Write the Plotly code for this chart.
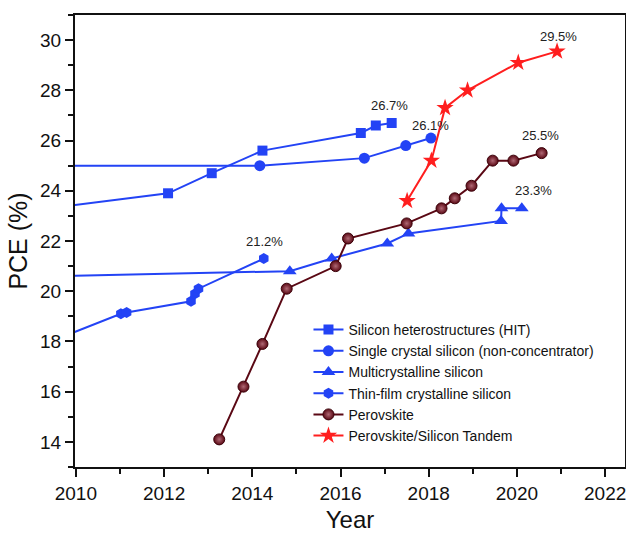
import plotly.graph_objects as go

# ---- data ----
hit_year = [2008.0, 2012.09, 2013.08, 2014.23, 2016.46, 2016.80, 2017.16]
hit_pce = [23.0, 23.9, 24.7, 25.6, 26.3, 26.6, 26.7]

sc_year = [1999.0, 2014.17, 2016.54, 2017.48, 2018.05]
sc_pce = [25.0, 25.0, 25.3, 25.8, 26.1]

mc_year = [2004.0, 2014.85, 2015.80, 2017.06, 2017.54, 2019.64, 2019.65, 2020.11]
mc_pce = [20.4, 20.8, 21.3, 21.9, 22.3, 22.8, 23.3, 23.3]

tf_year = [2009.0, 2011.02, 2011.15, 2012.61, 2012.70, 2012.78, 2014.26]
tf_pce = [17.7, 19.1, 19.15, 19.6, 19.9, 20.1, 21.3]

pk_year = [2013.25, 2013.80, 2014.23, 2014.78, 2015.89, 2016.17, 2017.50,
           2018.29, 2018.59, 2018.97, 2019.45, 2019.92, 2020.56]
pk_pce = [14.1, 16.2, 17.9, 20.1, 21.0, 22.1, 22.7, 23.3, 23.7, 24.2, 25.2, 25.2, 25.5]

td_year = [2017.51, 2018.06, 2018.37, 2018.88, 2020.03, 2020.91]
td_pce = [23.6, 25.2, 27.3, 28.0, 29.1, 29.55]

label_text = ["26.7%", "26.1%", "21.2%", "25.5%", "23.3%", "29.5%"]
label_year = [2017.12, 2018.05, 2014.27, 2020.54, 2020.37, 2020.94]
label_pce = [27.4, 26.6, 22.0, 26.2, 24.0, 30.15]

series_names = [
    "Silicon heterostructures (HIT)",
    "Single crystal silicon (non-concentrator)",
    "Multicrystalline silicon",
    "Thin-film crystalline silicon",
    "Perovskite",
    "Perovskite/Silicon Tandem",
]

BLUE = "#2343f5"
MAROON = "#5a0814"
RED = "#ff1e1e"
FONT = "Liberation Sans, Arial, sans-serif"

fig = go.Figure()

fig.add_trace(go.Scatter(x=hit_year, y=hit_pce, name=series_names[0], mode="lines+markers",
                         line=dict(color=BLUE, width=2),
                         marker=dict(symbol="square", size=10, color=BLUE)))
fig.add_trace(go.Scatter(x=sc_year, y=sc_pce, name=series_names[1], mode="lines+markers",
                         line=dict(color=BLUE, width=2),
                         marker=dict(symbol="circle", size=11, color=BLUE)))
fig.add_trace(go.Scatter(x=mc_year, y=mc_pce, name=series_names[2], mode="lines+markers",
                         line=dict(color=BLUE, width=2),
                         marker=dict(symbol="triangle-up", size=12, color=BLUE)))
fig.add_trace(go.Scatter(x=tf_year, y=tf_pce, name=series_names[3], mode="lines+markers",
                         line=dict(color=BLUE, width=2),
                         marker=dict(symbol="hexagon", size=11, color=BLUE)))
fig.add_trace(go.Scatter(x=pk_year, y=pk_pce, name=series_names[4], mode="lines+markers",
                         line=dict(color=MAROON, width=2),
                         marker=dict(symbol="circle", size=11, color=MAROON,
                                     gradient=dict(type="radial", color="#b06874"),
                                     line=dict(color="#3a0008", width=1))))
fig.add_trace(go.Scatter(x=td_year, y=td_pce, name=series_names[5], mode="lines+markers",
                         line=dict(color=RED, width=2),
                         marker=dict(symbol="star", size=13, color=RED)))

for t, xv, yv in zip(label_text, label_year, label_pce):
    fig.add_annotation(x=xv, y=yv, text=t, showarrow=False,
                       font=dict(family=FONT, size=13, color="#222222"))

fig.update_layout(
    width=626, height=533,
    margin=dict(l=75, r=1, t=15, b=66, autoexpand=False),
    paper_bgcolor="white", plot_bgcolor="white",
    font=dict(family=FONT, color="#111111"),
    showlegend=True,
    legend=dict(x=0.4245, y=0.3385, xanchor="left", yanchor="top",
                bgcolor="rgba(0,0,0,0)", font=dict(family=FONT, size=14, color="#111111"),
                itemwidth=30, tracegroupgap=0),
    xaxis=dict(range=[2009.98, 2022.45], tick0=2010, dtick=2, automargin=False,
               ticklabeloverflow="allow",
               showgrid=False, zeroline=False,
               showline=True, linecolor="#111111", linewidth=2, mirror=True,
               ticks="outside", ticklen=8, tickwidth=2, tickcolor="#111111",
               minor=dict(ticks="outside", ticklen=5, tickwidth=1.5, tickcolor="#111111", dtick=1),
               tickfont=dict(family=FONT, size=19, color="#111111"),
               title=dict(text="Year", font=dict(family=FONT, size=24, color="#111111"), standoff=10)),
    yaxis=dict(range=[13, 31], tick0=14, dtick=2, automargin=False,
               ticklabeloverflow="allow",
               showgrid=False, zeroline=False,
               showline=True, linecolor="#111111", linewidth=2, mirror=True,
               ticks="outside", ticklen=8, tickwidth=2, tickcolor="#111111",
               minor=dict(ticks="outside", ticklen=5, tickwidth=1.5, tickcolor="#111111", dtick=1),
               tickfont=dict(family=FONT, size=19, color="#111111"),
               title=dict(text="PCE (%)", font=dict(family=FONT, size=25, color="#111111"), standoff=5)),
)

fig.write_html("out.html", config={"displayModeBar": False},
               post_script="document.body.style.margin='0px';")
